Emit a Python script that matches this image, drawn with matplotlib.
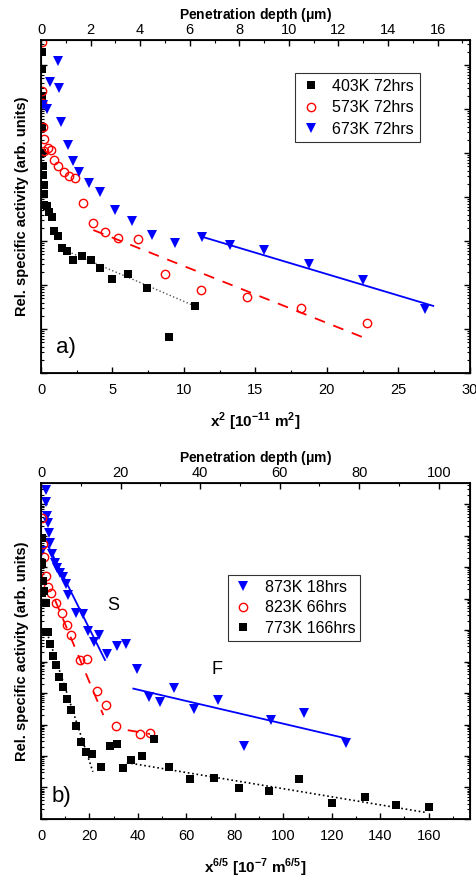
import numpy as np
from matplotlib import pyplot as plt
from matplotlib.ticker import MultipleLocator, LogLocator, NullFormatter

plt.rcParams['font.family'] = ['Liberation Sans', 'DejaVu Sans']
plt.rcParams['mathtext.fontset'] = 'custom'
plt.rcParams['mathtext.rm'] = 'Liberation Sans'
plt.rcParams['mathtext.bf'] = 'Liberation Sans:bold'

# ---- panel a) : x^2 [1e-11 m^2], log10 of rel. activity ----
a403_x = [0.05, 0.05, 0.05, 0.08, 0.1, 0.12, 0.15, 0.21, 0.21, 0.21, 0.40, 0.58, 0.77, 0.93, 1.17,
          1.49, 1.84, 2.26, 2.85, 3.48, 4.15, 4.99, 6.06, 7.43, 10.77, 8.93]
a403_y = [7.3, 6.9, 6.3, 5.6, 5.0, 4.7, 4.5, 4.27, 4.07, 3.82, 3.80, 3.67, 3.55, 3.23, 3.12,
          2.85, 2.77, 2.57, 2.67, 2.56, 2.39, 2.13, 2.24, 1.93, 1.52, 0.83]
a573_x = [0.09, 0.07, 0.09, 0.14, 0.19, 0.23, 0.47, 0.68, 0.89, 1.21, 1.61, 1.98, 2.38, 2.94,
          3.66, 4.48, 5.41, 6.80, 8.67, 11.19, 14.38, 18.18, 22.78]
a573_y = [7.53, 6.42, 6.13, 5.6, 5.31, 5.05, 5.11, 5.07, 4.84, 4.70, 4.58, 4.48, 4.44, 3.86,
          3.40, 3.20, 3.08, 3.04, 2.26, 1.89, 1.72, 1.47, 1.13]
a673_x = [1.17, 0.63, 1.24, 0.12, 0.4, 1.42, 1.87, 2.22, 2.68, 3.34, 4.13, 5.15, 6.38, 7.74,
          9.37, 11.24, 13.22, 15.6, 18.76, 22.5, 26.85]
a673_y = [7.09, 6.62, 6.48, 6.09, 6.0, 5.71, 5.18, 4.83, 4.57, 4.32, 4.11, 3.70, 3.45, 3.13,
          2.95, 3.10, 2.92, 2.80, 2.48, 2.11, 1.45]
a403_fit_x = [1.9, 10.77]
a403_fit_y = [2.76, 1.52]
a573_fit_x = [3.66, 22.54]
a573_fit_y = [3.25, 0.81]
a673_fit_x = [11.24, 27.44]
a673_fit_y = [3.10, 1.525]

# ---- panel b) : x^(6/5) [1e-7 m^(6/5)] ----
b873_x = [1.93, 2.07, 2.34, 2.75, 3.3, 3.72, 0.55, 4.41, 5.78, 6.75, 7.85, 8.95, 10.33, 11.28,
          14.46, 17.47, 19.3, 22.0, 24.1, 27.4, 31.3, 35.1, 39.8, 44.7, 49.2, 54.7, 63.3, 73.0,
          83.6, 94.9, 108.6, 125.9]
b873_y = [10.44, 10.07, 9.62, 9.41, 9.07, 8.77, 8.51, 8.40, 8.12, 7.98, 7.80, 7.67, 7.45, 7.11,
          6.55, 6.51, 5.97, 5.63, 5.84, 5.23, 5.49, 5.55, 4.75, 3.88, 3.72, 4.15, 3.48, 3.78,
          2.32, 3.14, 3.37, 2.42]
b823_x = [0.27, 0.69, 1.38, 1.93, 2.75, 4.0, 6.2, 8.55, 10.87, 12.4, 16.1, 19.1, 23.0, 26.9,
          31.0, 40.9, 45.0]
b823_y = [9.55, 8.72, 8.33, 7.71, 7.37, 7.18, 6.85, 6.53, 6.16, 5.84, 5.05, 5.08, 4.07, 3.62,
          2.95, 2.70, 2.74]
b773_x = [0.27, 0.55, 0.96, 0.55, 1.2, 2.07, 1.65, 3.0, 3.72, 4.83, 6.2, 7.56, 8.95, 10.6, 12.5,
          14.46, 16.4, 18.6, 21.1, 24.8, 28.5, 31.3, 34.0, 37.2, 41.6, 46.7, 53.0, 61.6, 71.2,
          81.9, 93.9, 106.6, 120.1, 133.6, 146.7, 160.3]
b773_y = [8.91, 8.14, 7.57, 7.17, 7.23, 6.85, 5.95, 5.95, 5.56, 5.17, 4.89, 4.52, 4.18, 3.81,
          3.46, 2.95, 2.43, 2.14, 2.05, 1.66, 2.33, 2.37, 1.61, 1.87, 2.0, 2.53, 1.66, 1.26,
          1.31, 0.97, 0.90, 1.26, 0.52, 0.71, 0.44, 0.39]
b873_fitS_x = [3.0, 26.4]
b873_fitS_y = [8.66, 5.05]
b873_fitF_x = [38.1, 127.0]
b873_fitF_y = [4.14, 2.54]
b823_fitS_x = [5.8, 25.7]
b823_fitS_y = [6.95, 3.30]
b823_fitF_x = [35.8, 45.0]
b823_fitF_y = [2.82, 2.70]
b773_fitS_x = [3.0, 21.4]
b773_fitS_y = [5.79, 1.50]
b773_fitF_x = [35.4, 158.6]
b773_fitF_y = [1.79, 0.21]

blue = '#0000ff'
red = '#ff0000'

def y(v):
    return np.power(10.0, np.array(v))

def style(ax, xmaj, xmin):
    ax.set_yscale('log')
    ax.xaxis.set_major_locator(MultipleLocator(xmaj))
    ax.xaxis.set_minor_locator(MultipleLocator(xmin))
    ax.yaxis.set_major_locator(LogLocator(base=10, numticks=20))
    ax.yaxis.set_minor_locator(LogLocator(base=10, subs=np.arange(2, 10), numticks=200))
    ax.yaxis.set_major_formatter(NullFormatter())
    ax.yaxis.set_minor_formatter(NullFormatter())
    ax.tick_params(axis='both', which='both', direction='in', right=True, labelsize=10.5)
    ax.tick_params(axis='x', which='both', top=False, pad=7)
    ax.tick_params(which='major', length=4, width=1)
    ax.tick_params(which='minor', length=2, width=0.8)
    for s in ax.spines.values():
        s.set_linewidth(1.3)

def top_axis(ax, lim, maj, mn):
    t = ax.twiny()
    t.set_xlim(0, lim)
    t.xaxis.set_major_locator(MultipleLocator(maj))
    t.xaxis.set_minor_locator(MultipleLocator(mn))
    t.tick_params(axis='x', which='both', direction='in', labelsize=10.5, pad=2)
    t.tick_params(which='major', length=4, width=1)
    t.tick_params(which='minor', length=2, width=0.8)
    t.set_xlabel(r'Penetration depth ($\mathbf{\mu}$m)', fontsize=10, fontweight='bold', labelpad=3)
    return t

fig = plt.figure(figsize=(4.77, 8.81), dpi=100)
ax1 = fig.add_axes([0.086, 0.5766, 0.899, 0.378])
ax2 = fig.add_axes([0.086, 0.0704, 0.899, 0.3814])

# panel a
ax1.plot(a403_fit_x, y(a403_fit_y), color='#555555', ls=':', lw=1)
ax1.plot(a573_fit_x, y(a573_fit_y), color=red, ls=(0, (6, 5)), lw=1.3)
ax1.plot(a673_fit_x, y(a673_fit_y), color=blue, ls='-', lw=1.3)
ax1.plot(a403_x, y(a403_y), 's', color='black', ms=5.5, mew=0, label='403K 72hrs')
ax1.plot(a573_x, y(a573_y), 'o', mfc='none', mec=red, ms=6, mew=1, label='573K 72hrs')
ax1.plot(a673_x, y(a673_y), 'v', color=blue, ms=7, mew=0, label='673K 72hrs')
ax1.set_xlim(0, 30)
ax1.set_ylim(1, 10 ** 7.57)
style(ax1, 5, 2.5)
ax1.set_xlabel(r'x$^{\mathbf{2}}$ [10$^{\mathbf{-11}}$ m$^{\mathbf{2}}$]', fontsize=11, fontweight='bold', labelpad=10)
ax1.set_ylabel('Rel. specific activity (arb. units)', fontsize=10.5, fontweight='bold', labelpad=5)
ax1.text(0.035, 0.06, 'a)', transform=ax1.transAxes, fontsize=16)
leg = ax1.legend(loc='upper left', bbox_to_anchor=(0.592, 0.90), fontsize=11.5, frameon=True,
                 fancybox=False, edgecolor='black', handletextpad=0.7, borderpad=0.35,
                 labelspacing=0.4, handlelength=1.3, borderaxespad=0)
leg.get_frame().set_linewidth(0.8)
top_axis(ax1, 17.3, 2, 1)

# panel b
ax2.plot(b773_fitS_x, y(b773_fitS_y), color='black', ls=':', lw=1.2)
ax2.plot(b773_fitF_x, y(b773_fitF_y), color='black', ls=':', lw=1.2)
ax2.plot(b823_fitS_x, y(b823_fitS_y), color=red, ls=(0, (6, 5)), lw=1.3)
ax2.plot(b823_fitF_x, y(b823_fitF_y), color=red, ls=(0, (6, 5)), lw=1.3)
ax2.plot(b873_fitS_x, y(b873_fitS_y), color=blue, ls='-', lw=1.3)
ax2.plot(b873_fitF_x, y(b873_fitF_y), color=blue, ls='-', lw=1.3)
ax2.plot(b873_x, y(b873_y), 'v', color=blue, ms=7, mew=0, label='873K 18hrs')
ax2.plot(b823_x, y(b823_y), 'o', mfc='none', mec=red, ms=6, mew=1, label='823K 66hrs')
ax2.plot(b773_x, y(b773_y), 's', color='black', ms=5.5, mew=0, label='773K 166hrs')
ax2.set_xlim(0, 177)
ax2.set_ylim(1, 10 ** 10.67)
style(ax2, 20, 10)
ax2.set_xlabel(r'x$^{\mathbf{6/5}}$ [10$^{\mathbf{-7}}$ m$^{\mathbf{6/5}}$]', fontsize=11, fontweight='bold', labelpad=10)
ax2.set_ylabel('Rel. specific activity (arb. units)', fontsize=10.5, fontweight='bold', labelpad=5)
ax2.text(0.025, 0.05, 'b)', transform=ax2.transAxes, fontsize=16)
ax2.text(0.168, 0.634, 'S', transform=ax2.transAxes, fontsize=13, ha='center', va='center')
ax2.text(0.41, 0.446, 'F', transform=ax2.transAxes, fontsize=13, ha='center', va='center')
leg2 = ax2.legend(loc='upper left', bbox_to_anchor=(0.436, 0.726), fontsize=11.5, frameon=True,
                  fancybox=False, edgecolor='black', handletextpad=0.7, borderpad=0.3,
                  labelspacing=0.35, handlelength=1.3, borderaxespad=0)
leg2.get_frame().set_linewidth(0.8)
top_axis(ax2, 107.8, 20, 10)

fig.savefig('out.png', dpi=100)
